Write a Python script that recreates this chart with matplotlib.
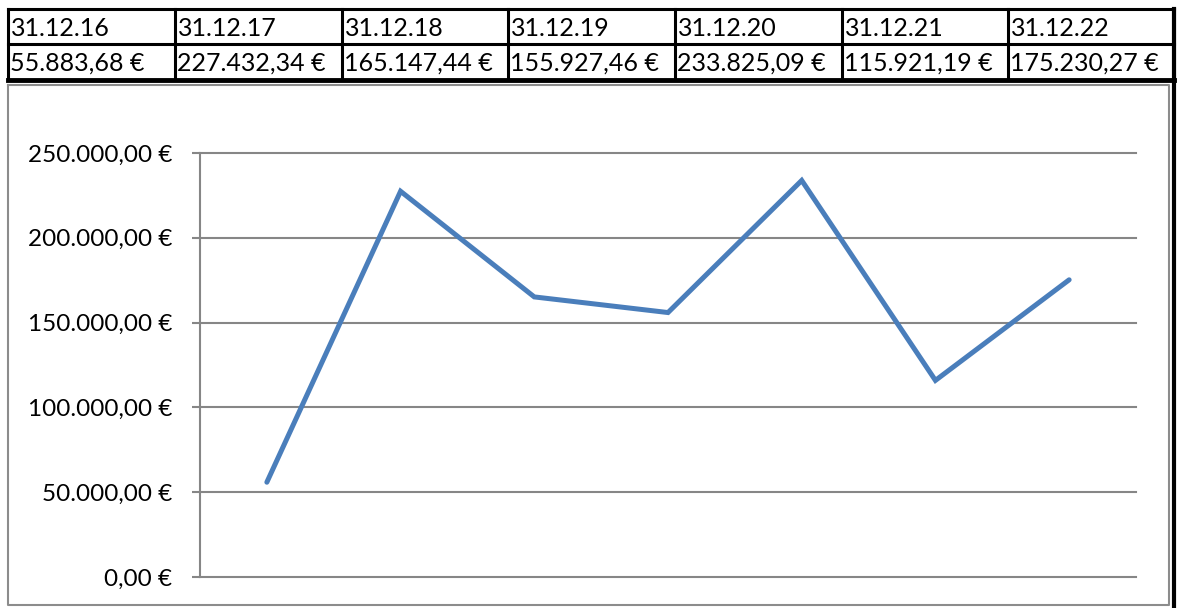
import matplotlib
matplotlib.use("Agg")
import matplotlib.pyplot as plt
from matplotlib.lines import Line2D

# data
dates = ["31.12.16", "31.12.17", "31.12.18", "31.12.19", "31.12.20", "31.12.21", "31.12.22"]
values = [55883.68, 227432.34, 165147.44, 155927.46, 233825.09, 115921.19, 175230.27]
yticks = [0, 50000, 100000, 150000, 200000, 250000]

plt.rcParams['font.family'] = ['Lato', 'DejaVu Sans']


def euro(v):
    s = "{:,.2f}".format(v)
    s = s.replace(",", "X").replace(".", ",").replace("X", ".")
    return s + " €"


W, H = 1177, 608
fig = plt.figure(figsize=(W / 100, H / 100), dpi=100)

# overlay in pixel coords for table + frame
ov = fig.add_axes([0, 0, 1, 1])
ov.set_xlim(0, W)
ov.set_ylim(H, 0)
ov.axis("off")

# chart frame (gray)
ov.add_line(Line2D([8, 8, 1169, 1169, 8], [85, 605, 605, 85, 85], color="#8c8c8c", lw=1.5))

# table
cols = [8, 175, 342, 508, 675, 842, 1008, 1174]
rows = [9, 44, 80]
for x in cols:
    ov.add_line(Line2D([x, x], [rows[0], rows[-1]], color="black", lw=2.2))
ov.add_line(Line2D([1174, 1174], [rows[0], H], color="black", lw=3))
ov.add_line(Line2D([cols[0], cols[-1]], [rows[0], rows[0]], color="black", lw=2.2))
ov.add_line(Line2D([cols[0], cols[-1]], [rows[1], rows[1]], color="black", lw=2.2))
ov.add_line(Line2D([cols[0], cols[-1]], [rows[2], rows[2]], color="black", lw=3.5))
for i in range(len(dates)):
    ov.text(cols[i] + 3, 28, dates[i], fontsize=18, va="center", ha="left")
    ov.text(cols[i] + 2, 63, euro(values[i]), fontsize=18, va="center", ha="left")

# line chart
ax = fig.add_axes([200 / W, (H - 577) / H, 936 / W, (577 - 153) / H])
x = range(len(values))
ax.plot(x, values, color="#4a7ebb", lw=3.6, solid_capstyle="round", solid_joinstyle="miter")
ax.set_xlim(-0.5, len(values) - 0.5)
ax.set_ylim(0, 250000)
ax.set_yticks(yticks)
ax.set_yticklabels([euro(v) for v in yticks], fontsize=17.5)
ax.set_xticks([])
for y in yticks:
    ax.axhline(y, color="#868686", lw=1.5, zorder=0, clip_on=False)
for s in ["top", "right", "bottom"]:
    ax.spines[s].set_visible(False)
ax.spines["left"].set_color("#868686")
ax.spines["left"].set_linewidth(1.5)
ax.tick_params(axis="y", length=6, width=1.5, color="#868686", pad=14)
ax.set_facecolor("none")

fig.savefig("out.png", dpi=100)
